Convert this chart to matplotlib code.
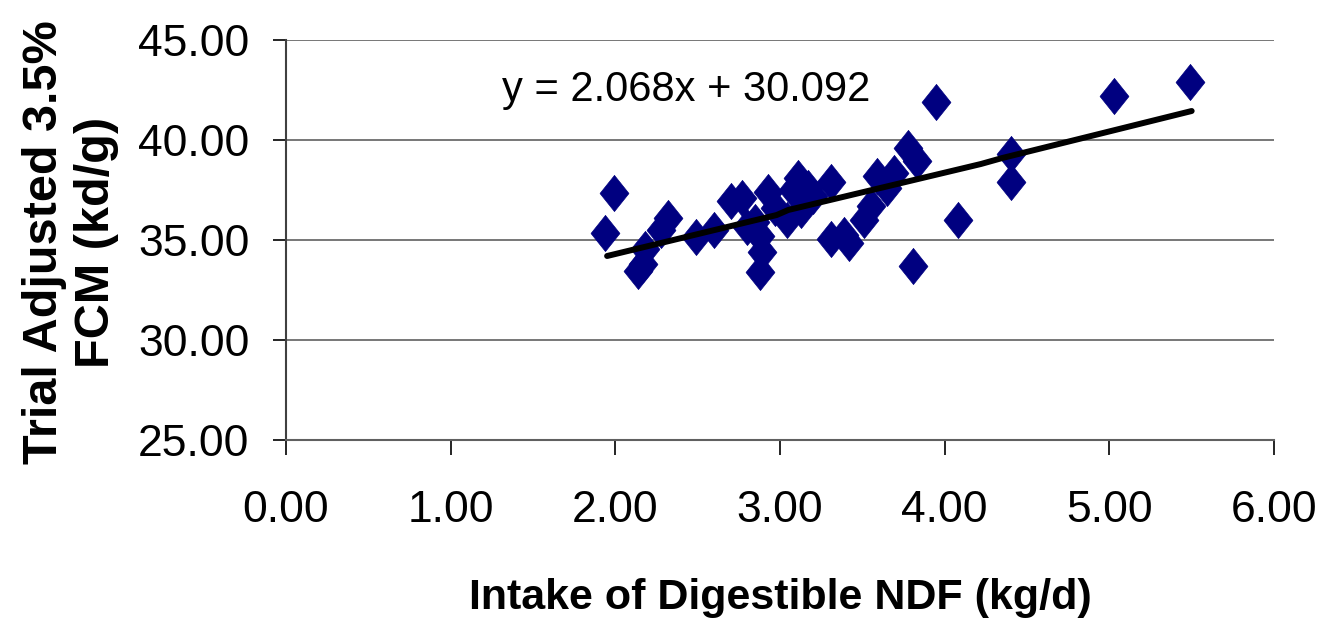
import matplotlib
matplotlib.use("Agg")
import matplotlib.pyplot as plt
from matplotlib.ticker import FixedLocator, FormatStrFormatter

plt.rcParams['font.family'] = ['Liberation Sans', 'DejaVu Sans']

# Data
ndf_intake = [1.94, 1.99, 2.14, 2.17, 2.18, 2.28, 2.32, 2.49, 2.60, 2.70,
              2.77, 2.80, 2.85, 2.88, 2.89, 2.88, 2.93, 2.97, 3.04, 3.08,
              3.11, 3.13, 3.17, 3.20, 3.31, 3.31, 3.39, 3.42, 3.51, 3.55,
              3.59, 3.65, 3.69, 3.775, 3.835, 3.805, 3.95, 4.08, 4.40, 4.40,
              5.03, 5.49]
fcm = [35.37, 37.33, 33.45, 33.8, 34.55, 35.5, 36.08, 35.17, 35.5, 36.95,
       37.1, 35.67, 35.9, 33.4, 34.4, 35.2, 37.4, 36.6, 36.0, 37.5,
       38.1, 36.5, 37.6, 37.2, 37.9, 35.05, 35.25, 34.85, 36.0, 36.7,
       38.2, 37.6, 38.35, 39.58, 38.95, 33.7, 41.88, 36.0, 39.28, 37.9,
       42.22, 42.88]

# Trend line as drawn (polyline)
fit_x = [1.95, 2.98, 3.05, 4.22, 4.35, 5.50]
fit_y = [34.2, 36.25, 36.5, 38.8, 39.1, 41.45]

x_ticks = [0, 1, 2, 3, 4, 5, 6]
y_ticks = [25, 30, 35, 40, 45]
equation = "y = 2.068x + 30.092"
x_label = "Intake of Digestible NDF (kg/d)"
y_label = "Trial Adjusted 3.5%\nFCM (kd/g)"

fig = plt.figure(figsize=(13.23, 6.32), dpi=100)
ax = fig.add_axes([286/1323, 1 - 440/632, (1274-286)/1323, 400/632])

diamond = [(0, 1), (0.8, 0), (0, -1), (-0.8, 0), (0, 1)]
ax.scatter(ndf_intake, fcm, marker=diamond, s=26**2, color='#000080',
           edgecolors='#000080', linewidths=0.5, zorder=3)
ax.plot(fit_x, fit_y, color='black', lw=4.3, solid_capstyle='round', zorder=4)

ax.set_xlim(0, 6)
ax.set_ylim(25, 45)
ax.xaxis.set_major_locator(FixedLocator(x_ticks))
ax.yaxis.set_major_locator(FixedLocator(y_ticks))
ax.xaxis.set_major_formatter(FormatStrFormatter('%.2f'))
ax.yaxis.set_major_formatter(FormatStrFormatter('%.2f'))

for y in y_ticks[1:]:
    ax.axhline(y, color='#606060', lw=1.2, zorder=1)

for s in ['top', 'right']:
    ax.spines[s].set_visible(False)
ax.spines['left'].set_color('#404040')
ax.spines['bottom'].set_color('#606060')
ax.spines['left'].set_linewidth(1.5)
ax.spines['bottom'].set_linewidth(1.5)

ax.tick_params(axis='y', direction='out', length=9.4, width=1.2, labelsize=32, pad=17)
ax.tick_params(axis='x', direction='out', length=11, width=1.2, labelsize=32, pad=25)

ax.set_xlabel(x_label, fontsize=31, fontweight='bold', labelpad=34)

fig.text(71/1323, 1 - 242/632, y_label, rotation=90, fontsize=35,
         fontweight='bold', ha='center', va='center', multialignment='center',
         linespacing=1.2)

ax.text(0.219, 0.875, equation, transform=ax.transAxes, fontsize=30,
        ha='left', va='center')

fig.savefig('out.png', dpi=100)
